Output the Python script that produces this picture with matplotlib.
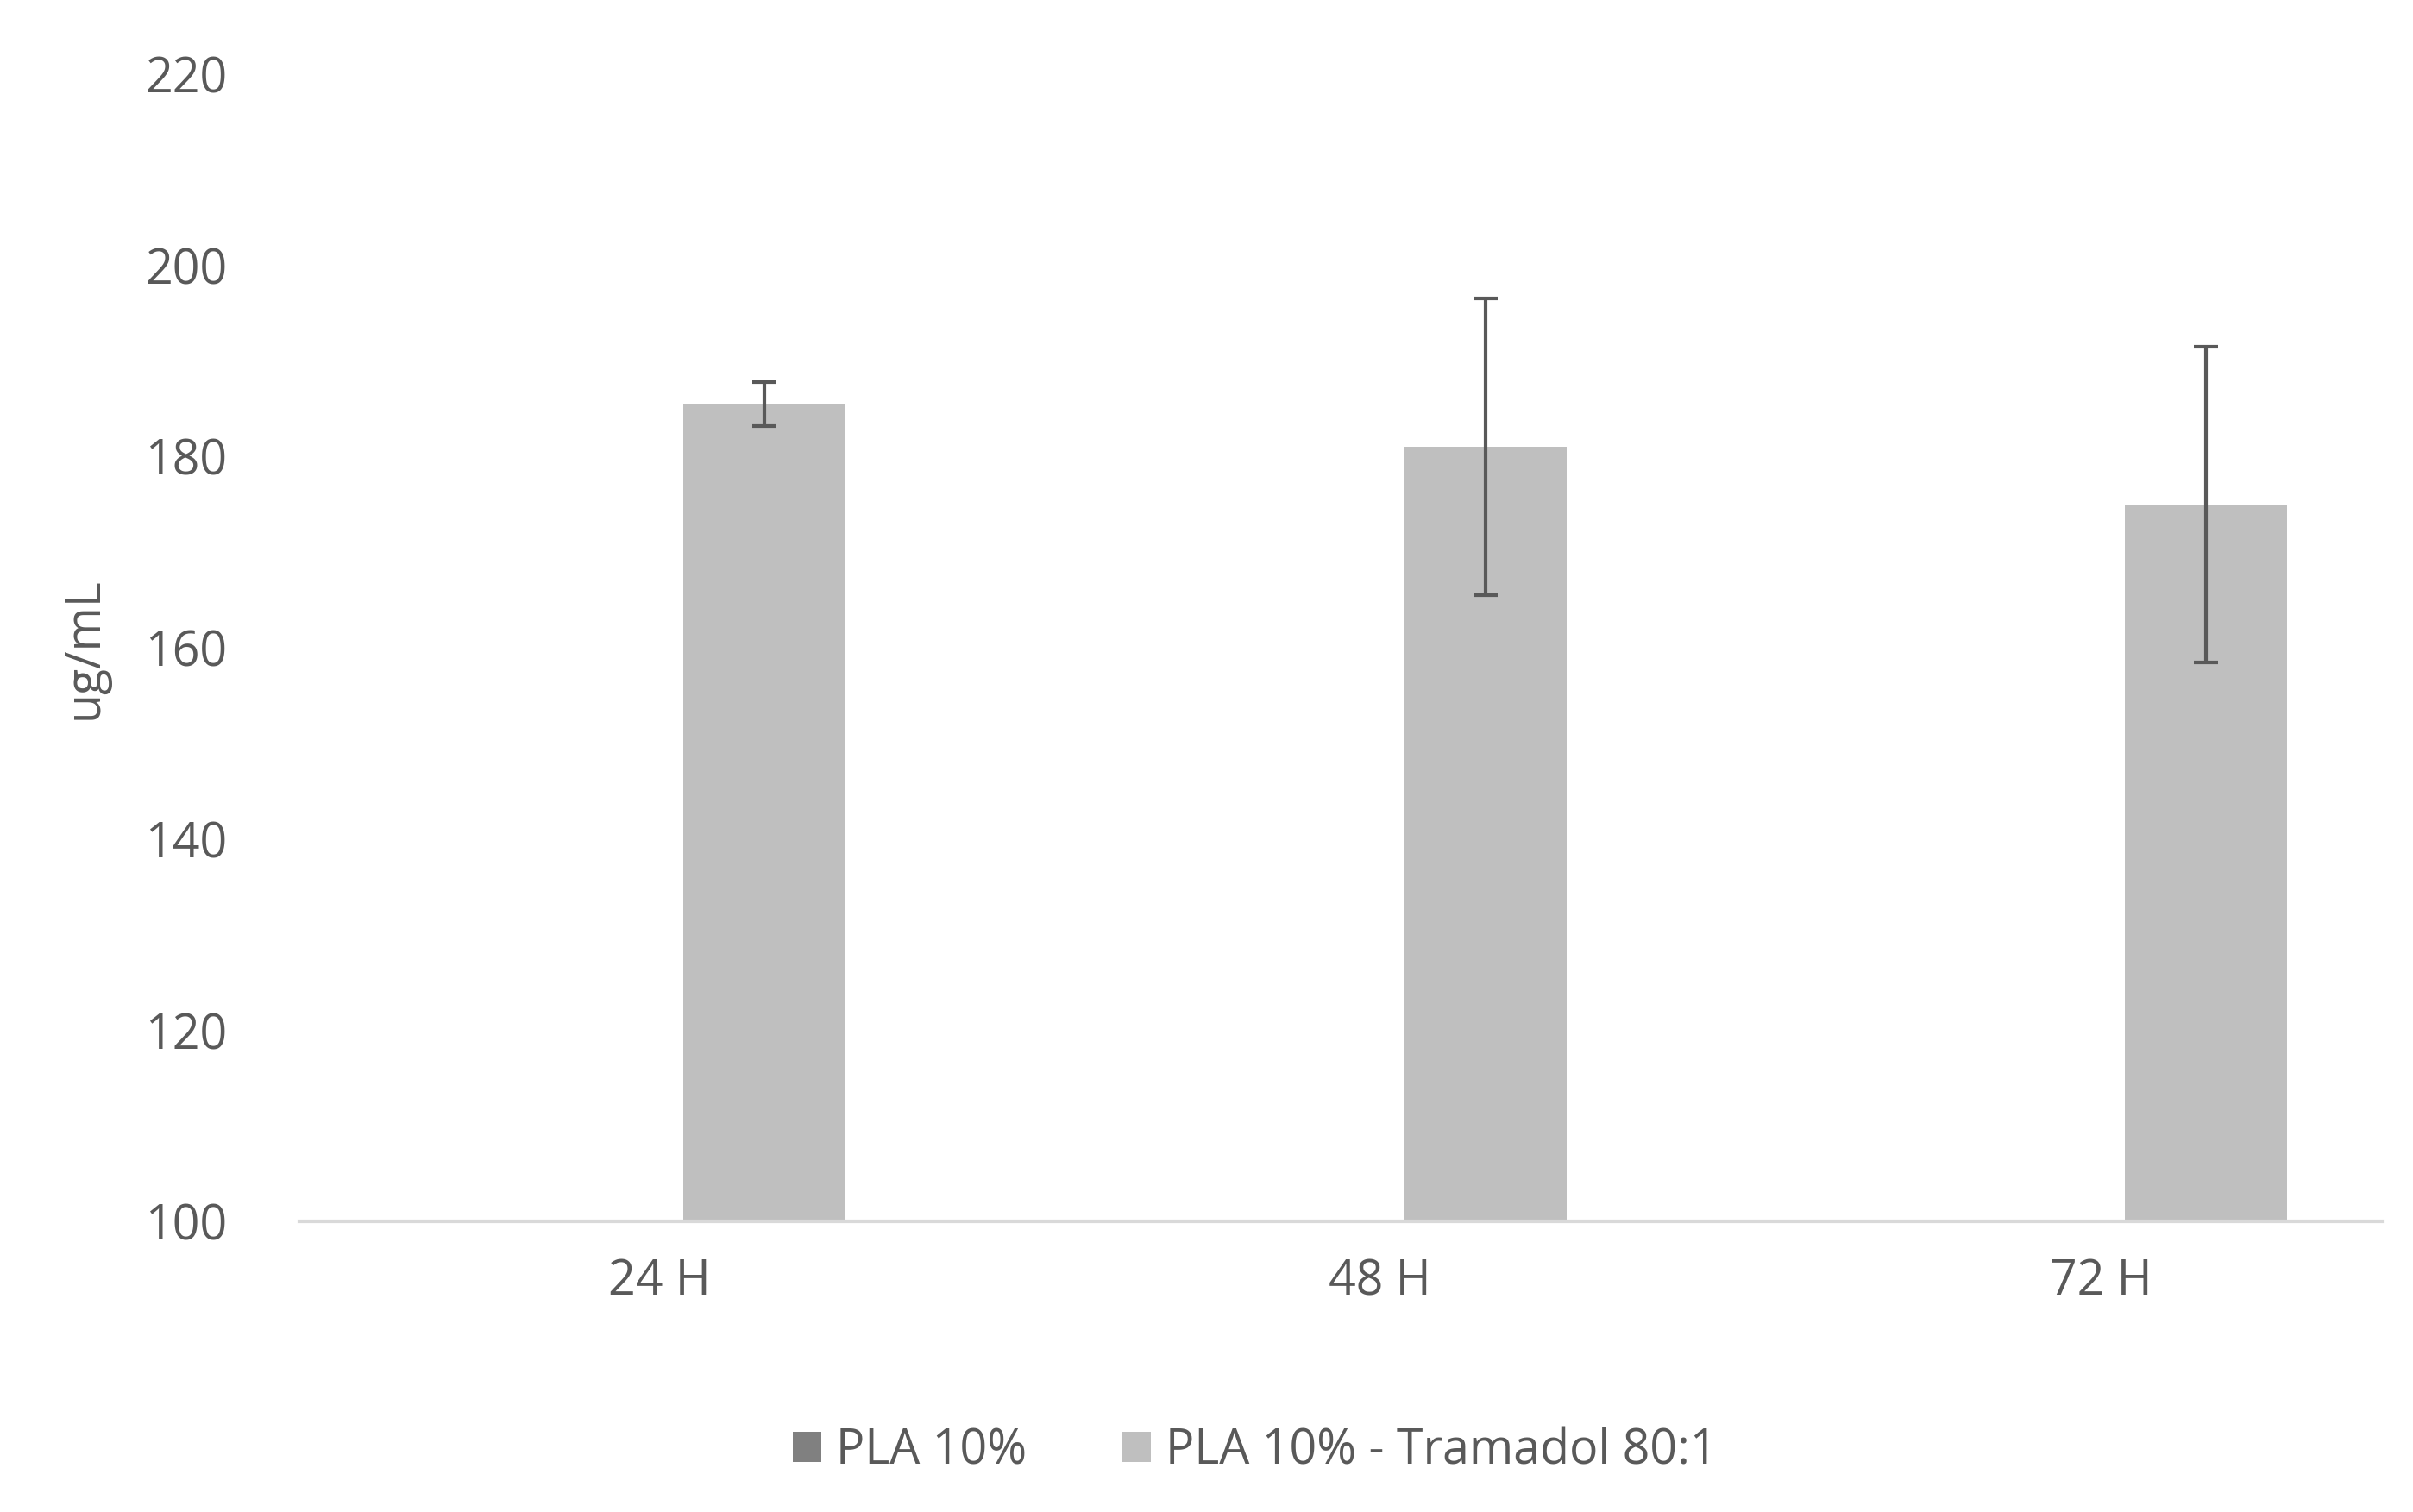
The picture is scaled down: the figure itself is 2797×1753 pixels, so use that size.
import matplotlib
matplotlib.use("Agg")
import matplotlib.pyplot as plt
import numpy as np

categories = ["24 H", "48 H", "72 H"]
pla10 = [np.nan, np.nan, np.nan]
pla10_tram = [185.5, 181.0, 175.0]
pla10_tram_err = [2.3, 15.5, 16.5]
yticks = [100, 120, 140, 160, 180, 200, 220]

plt.rcParams['font.family'] = ['Open Sans', 'DejaVu Sans']
fig = plt.figure(figsize=(27.97, 17.53), dpi=100)
ax = fig.add_axes([0.124, 0.192, 0.863, 0.759])
x = np.arange(len(categories))
w = 0.225
ax.bar(x - 0.146, pla10, w, color="#808080", label="PLA 10%")
ax.bar(x + 0.146, np.array(pla10_tram), w, color="#bfbfbf", label="PLA 10% - Tramadol 80:1",
       yerr=pla10_tram_err, error_kw=dict(ecolor="#595959", elinewidth=3, capsize=10, capthick=3))
ax.set_ylim(100, 220)
ax.set_xlim(-0.5, 2.39)
ax.set_yticks(yticks)
ax.set_xticks(x)
ax.set_xticklabels(categories)
for s in ["top", "right", "left"]:
    ax.spines[s].set_visible(False)
ax.spines["bottom"].set_color("#d9d9d9")
ax.spines["bottom"].set_linewidth(3)
ax.tick_params(length=0, labelsize=40, colors="#595959", pad=30)
ax.tick_params(axis="y", pad=60)
ax.set_ylabel("ug/mL", fontsize=40, color="#595959", labelpad=30)
fig.legend(loc="center", bbox_to_anchor=(0.52, 0.04), ncol=2, frameon=False,
           fontsize=40, labelcolor="#595959", handlelength=0.6, handleheight=0.6,
           columnspacing=2, handletextpad=0.3)
fig.savefig("out.png", dpi=100, facecolor="white")
